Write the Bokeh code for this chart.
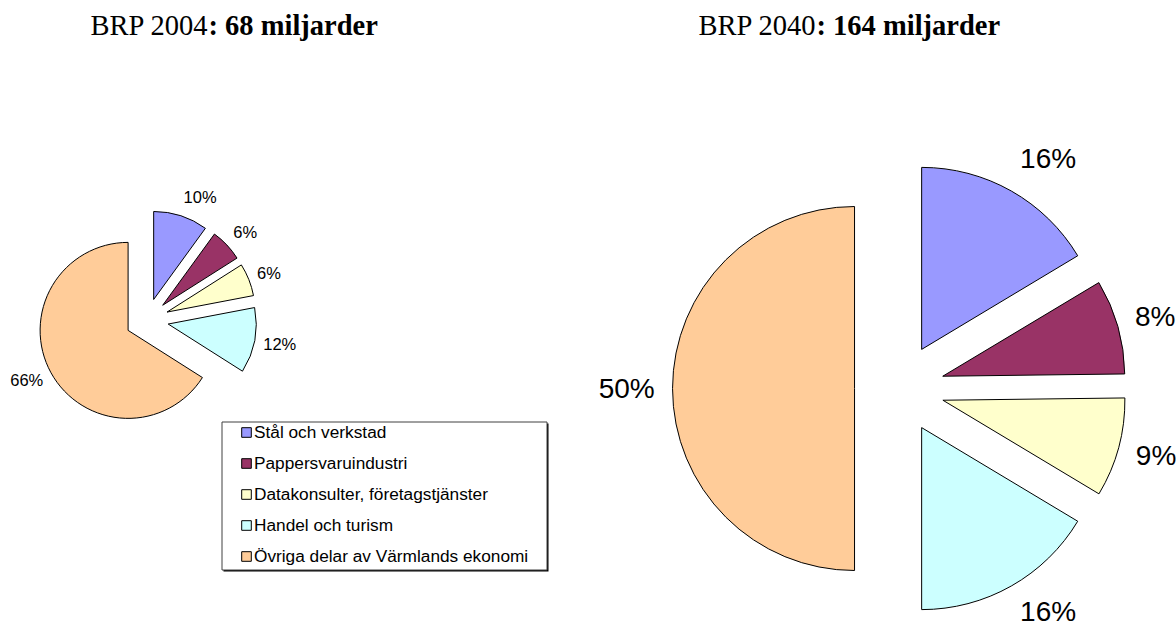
import math
from bokeh.plotting import figure
from bokeh.models import Range1d, ColumnDataSource, Legend, LegendItem
from bokeh.core.properties import value
from bokeh.embed import file_html
from bokeh.resources import INLINE

# ---------------- data ----------------
categories = [
    "Stål och verkstad",
    "Pappersvaruindustri",
    "Datakonsulter, företagstjänster",
    "Handel och turism",
    "Övriga delar av Värmlands ekonomi",
]
colors = ["#9999FF", "#993366", "#FFFFCC", "#CCFFFF", "#FFCC99"]
share_2004 = [10, 6, 6, 12, 66]            # % of BRP 2004
share_2040 = [16.4, 8.4, 8.8, 16.4, 50.0]  # % of BRP 2040
title_2004 = ["BRP 2004", ": 68 miljarder"]
title_2040 = ["BRP 2040", ": 164 miljarder"]

# ---------------- figure (1 data unit = 1 px, origin = page corner) ----------------
W, H = 1176, 628
p = figure(width=W, height=H,
           x_range=Range1d(0, W), y_range=Range1d(-H, 0),
           output_backend="svg", toolbar_location=None,
           x_axis_type=None, y_axis_type=None,
           min_border=0, outline_line_color=None,
           background_fill_color="white", border_fill_color="white")


def pie_source(values, cx, cy, r, explode, font_px, label_k):
    total = float(sum(values))
    d = dict(x=[], y=[], start=[], end=[], color=[], lx=[], ly=[], label=[])
    cum = 0.0
    for v, c in zip(values, colors):
        a0 = math.pi / 2 - 2 * math.pi * cum / total
        cum += v
        a1 = math.pi / 2 - 2 * math.pi * cum / total
        mid = (a0 + a1) / 2
        cm, sm = math.cos(mid), math.sin(mid)
        d["x"].append(cx + explode * r * cm)
        d["y"].append(cy + explode * r * sm)
        d["start"].append(a1)
        d["end"].append(a0)
        d["color"].append(c)
        lab = f"{round(100 * v / total)}%"
        w = font_px * (0.556 * (len(lab) - 1) + 0.889)
        h = font_px * 0.86
        R = label_k * r
        ky = 1.03 if sm > 0 else 1.0
        dx = math.copysign(w / 2, cm) if abs(cm) > 1e-6 else 0.0
        d["lx"].append(cx + R * cm + dx)
        d["ly"].append(cy + R * sm * ky + sm * h / 2)
        d["label"].append(lab)
    return ColumnDataSource(d)


# left pie (2004)
L_R = 88
src_l = pie_source(share_2004, 146.5, -319.5, L_R, 0.245, 16.5, 1.345)
r_left = p.wedge(x="x", y="y", radius=L_R, start_angle="start", end_angle="end",
                 direction="anticlock", fill_color="color", line_color="black",
                 line_width=1, source=src_l)
p.text(x="lx", y="ly", text="label", source=src_l, text_align="center",
       text_baseline="middle", text_font=value("Liberation Sans"),
       text_font_size="16.5px", text_color="black")

# right pie (2040)
R_R = 182
src_r = pie_source(share_2040, 899, -388, R_R, 0.247, 28, 1.345)
p.wedge(x="x", y="y", radius=R_R, start_angle="start", end_angle="end",
        direction="anticlock", fill_color="color", line_color="black",
        line_width=1, source=src_r)
p.text(x="lx", y="ly", text="label", source=src_r, text_align="center",
       text_baseline="middle", text_font=value("Liberation Sans"),
       text_font_size="28px", text_color="black")

# titles (normal + bold parts)
TFS = "28.5px"
for (normal, bold), split in ((title_2004, 208), (title_2040, 816)):
    p.text(x=[split], y=[-25], text=[normal], text_align="right",
           text_baseline="middle", text_font=value("Liberation Serif"),
           text_font_size=TFS, text_color="black")
    p.text(x=[split], y=[-25], text=[bold], text_align="left",
           text_baseline="middle", text_font=value("Liberation Serif"),
           text_font_size=TFS, text_font_style="bold", text_color="black")

# legend frame with shadow
p.quad(left=[223], right=[548], top=[-423], bottom=[-571],
       fill_color="black", line_color=None)
p.quad(left=[221.5], right=[546.5], top=[-421.5], bottom=[-569.5],
       fill_color="white", line_color="#404040", line_width=1)

items = [LegendItem(label=cat, renderers=[r_left], index=i)
         for i, cat in enumerate(categories)]
legend = Legend(items=items, location=(240, 61.5), orientation="vertical",
                padding=0, margin=0, spacing=10,
                glyph_width=12, glyph_height=12, label_height=20,
                label_standoff=2,
                label_text_font="Liberation Sans", label_text_font_size="17.25px",
                label_text_color="black",
                border_line_color=None, background_fill_alpha=0)
p.add_layout(legend)

open("out.html", "w").write(file_html(p, INLINE))
